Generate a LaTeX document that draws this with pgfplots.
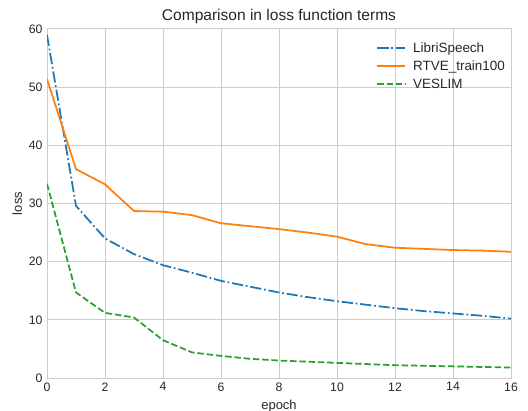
\documentclass[border=0pt]{standalone}
\usepackage{pgfplots}
\pgfplotsset{compat=1.18}
\usepackage{fontspec}
\setmainfont{Liberation Sans}
\definecolor{tabblue}{HTML}{1F77B4}
\definecolor{taborange}{HTML}{FF7F0E}
\definecolor{tabgreen}{HTML}{2CA02C}
\definecolor{gridgray}{HTML}{CCCCCC}
\definecolor{textgray}{HTML}{262626}

\begin{document}
\begin{tikzpicture}
\begin{axis}[
  scale only axis, width=464bp, height=349bp,
  xmin=0, xmax=16, ymin=0, ymax=60,
  xtick={0,2,...,16}, ytick={0,10,...,60},
  major tick length=0pt,
  grid=major, grid style={gridgray, line width=1bp},
  axis line style={gridgray, line width=1bp},
  /pgf/number format/assume math mode=true,
  tick label style={font=\fontsize{12.3}{12.3}\selectfont, text=textgray},
  xticklabel style={yshift=-1bp},
  yticklabel style={xshift=-1bp},
  title={Comparison in loss function terms},
  title style={font=\fontsize{15.6}{16}\selectfont, text=textgray, yshift=-4bp},
  xlabel={epoch}, ylabel={loss},
  label style={font=\fontsize{13}{13}\selectfont, text=textgray},
  xlabel style={yshift=-2bp},
  legend style={draw=none, fill=none, at={(0.998,0.975)}, anchor=north east,
    font=\fontsize{13.5}{14}\selectfont, text=textgray, row sep=1.5bp},
  legend cell align=left,
  legend image code/.code={\draw[#1] (0bp,0bp) -- (28bp,0bp);},
  every axis plot/.append style={line width=1.75bp, line cap=butt, line join=round},
]
\addplot[tabblue, dash pattern=on 11.2bp off 2.8bp on 1.75bp off 2.8bp] coordinates {
  (0,59.0) (1,29.6) (2,24.0) (3,21.3) (4,19.4) (5,18.1) (6,16.7) (7,15.7)
  (8,14.7) (9,13.9) (10,13.2) (11,12.6) (12,12.0) (13,11.5) (14,11.1) (15,10.7) (16,10.2)
};
\addlegendentry{\hspace{5bp}LibriSpeech\rule[-4bp]{0pt}{15bp}}
\addplot[taborange] coordinates {
  (0,51.4) (1,35.9) (2,33.3) (3,28.7) (4,28.6) (5,28.0) (6,26.6) (7,26.1)
  (8,25.6) (9,25.0) (10,24.3) (11,23.0) (12,22.4) (13,22.2) (14,22.0) (15,21.9) (16,21.7)
};
\addlegendentry{\hspace{5bp}RTVE\_train100\rule[-4bp]{0pt}{15bp}}
\addplot[tabgreen, dash pattern=on 6.5bp off 2.8bp] coordinates {
  (0,33.4) (1,14.7) (2,11.2) (3,10.4) (4,6.5) (5,4.4) (6,3.8) (7,3.3)
  (8,3.0) (9,2.8) (10,2.6) (11,2.4) (12,2.2) (13,2.1) (14,2.0) (15,1.9) (16,1.8)
};
\addlegendentry{\hspace{5bp}VESLIM\rule[-4bp]{0pt}{15bp}}
\end{axis}
\pgfresetboundingbox
\path (-47bp,-33bp) rectangle (481bp,378bp);
\end{tikzpicture}
\end{document}
